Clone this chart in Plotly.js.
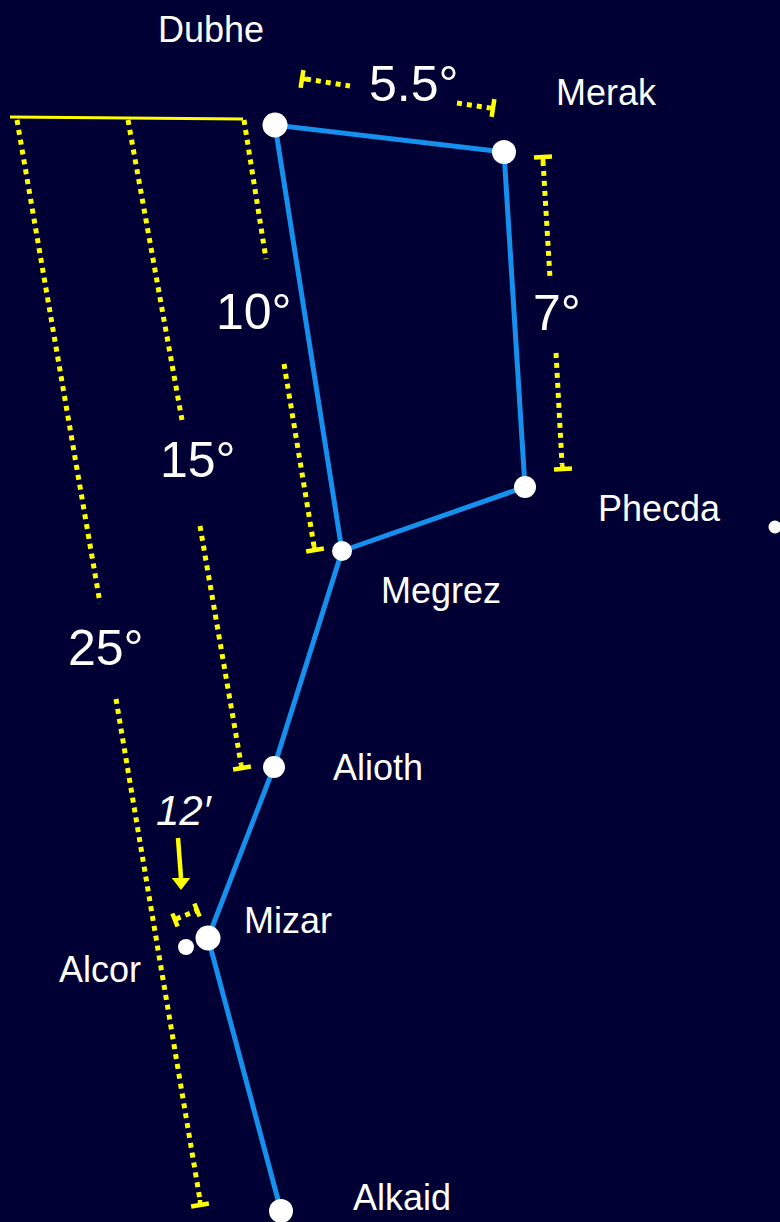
<!DOCTYPE html>
<html>
<head>
<meta charset="utf-8">
<script src="https://cdn.plot.ly/plotly-3.0.1.min.js"></script>
<style>html,body{margin:0;padding:0;background:#000035;}#chart{width:780px;height:1222px;}</style>
</head>
<body>
<div id="chart"></div>
<script>
// Stars of the Big Dipper (sky-diagram coordinates)
const starNames = ['Dubhe','Merak','Phecda','Megrez','Alioth','Mizar','Alcor','Alkaid',''];
const starX = [275, 504, 525, 342, 274, 208, 186, 281, 775];
const starY = [125, 152, 487, 551, 767, 938, 947, 1211, 527];
const starSize = [25, 24, 22, 20, 22, 25, 16, 24, 13];
// Star label anchors (left edge, vertical centre)
const labelX = [157, 555, 597, 380, 332, 243, 58, 352];
const labelY = [29, 92, 508, 590, 767, 920, 969, 1197];
// Order in which the stick figure is drawn
const figurePath = ['Alkaid','Mizar','Alioth','Megrez','Dubhe','Merak','Phecda','Megrez'];

// Angular separations
const angleText = ['5.5°','7°','10°','15°','25°','12′'];
const angleX = [368, 532, 215, 159, 67, 155];
const angleY = [84, 313, 312, 460, 648, 810];

// Dotted measuring segments
const dotX0 = [17, 116, 128, 200, 244, 284, 543, 556, 306, 457, 176];
const dotY0 = [120, 699, 120, 526, 120, 364, 161, 353, 79, 103, 919];
const dotX1 = [100, 200, 182, 241, 266, 314, 550, 562, 350, 490, 196];
const dotY1 = [603, 1200, 420, 764, 259, 546, 278, 464, 86, 108, 911];
// End bars of the measuring segments
const tickX = [200, 242, 315, 543, 563, 302, 493, 175, 197];
const tickY = [1205, 768, 550, 157, 469, 79, 108, 920, 910];
const tickLen = [18, 18, 18, 18, 18, 18, 18, 14, 14];
const tickSeg = [1, 3, 5, 6, 7, 8, 9, 10, 10];
// Common baseline of the long measurements
const baseX = [10, 243];
const baseY = [117, 119];
// Arrow pointing at Alcor/Mizar gap
const arrowX = [178, 181];
const arrowY = [838, 878];

const NAVY = '#000035', BLUE = '#1590ec', YELLOW = '#ffff00';
const FONT = 'Liberation Sans, Arial, Helvetica, sans-serif';

const idx = n => starNames.indexOf(n);
const figX = figurePath.map(n => starX[idx(n)]);
const figY = figurePath.map(n => starY[idx(n)]);

const dx = [], dy = [];
for (let i = 0; i < dotX0.length; i++) {
  dx.push(dotX0[i], dotX1[i], null);
  dy.push(dotY0[i], dotY1[i], null);
}
const tx = [], ty = [];
for (let i = 0; i < tickX.length; i++) {
  const s = tickSeg[i];
  const vx = dotX1[s] - dotX0[s], vy = dotY1[s] - dotY0[s];
  const L = Math.hypot(vx, vy);
  const px = -vy / L, py = vx / L;
  const h = tickLen[i] / 2;
  tx.push(tickX[i] - px * h, tickX[i] + px * h, null);
  ty.push(tickY[i] - py * h, tickY[i] + py * h, null);
  // stub joining the dotted segment to its bar
  const d0 = Math.hypot(tickX[i] - dotX0[s], tickY[i] - dotY0[s]);
  const d1 = Math.hypot(tickX[i] - dotX1[s], tickY[i] - dotY1[s]);
  const ex = d0 < d1 ? dotX0[s] : dotX1[s], ey = d0 < d1 ? dotY0[s] : dotY1[s];
  tx.push(ex, tickX[i], null);
  ty.push(ey, tickY[i], null);
}

const traces = [
  {x: baseX, y: baseY, mode: 'lines', line: {color: YELLOW, width: 3}, hoverinfo: 'skip'},
  {x: dx, y: dy, mode: 'lines', line: {color: YELLOW, width: 5, dash: '5px,5px'}, hoverinfo: 'skip'},
  {x: tx, y: ty, mode: 'lines', line: {color: YELLOW, width: 4.5}, hoverinfo: 'skip'},
  {x: arrowX, y: arrowY, mode: 'lines', line: {color: YELLOW, width: 4.5}, hoverinfo: 'skip'},
  {x: [arrowX[1]], y: [arrowY[1] + 4], mode: 'markers', marker: {symbol: 'triangle-down', size: 16, color: YELLOW, opacity: 1}, hoverinfo: 'skip'},
  {x: figX, y: figY, mode: 'lines', line: {color: BLUE, width: 5}, hoverinfo: 'skip'},
  {x: starX, y: starY, mode: 'markers', marker: {color: '#ffffff', opacity: 1, size: starSize, line: {width: 0}}, text: starNames, hoverinfo: 'text'}
];

const annotations = [];
for (let i = 0; i < labelX.length; i++) {
  annotations.push({x: labelX[i], y: labelY[i], xref: 'x', yref: 'y', text: starNames[i], showarrow: false,
    xanchor: 'left', yanchor: 'middle', borderpad: 0, font: {family: FONT, size: 36, color: '#ffffff'}});
}
for (let i = 0; i < angleText.length; i++) {
  const italic = angleText[i].indexOf('′') >= 0;
  annotations.push({x: angleX[i], y: angleY[i], xref: 'x', yref: 'y', text: angleText[i], showarrow: false,
    xanchor: 'left', yanchor: 'middle', borderpad: 0,
    font: {family: FONT, size: italic ? 42 : 50, color: '#ffffff', style: italic ? 'italic' : 'normal'}});
}

const layout = {
  width: 780, height: 1222,
  margin: {l: 0, r: 0, t: 0, b: 0, pad: 0},
  paper_bgcolor: NAVY, plot_bgcolor: NAVY,
  showlegend: false,
  xaxis: {range: [0, 780], visible: false, fixedrange: true},
  yaxis: {range: [1222, 0], visible: false, fixedrange: true},
  annotations: annotations
};
Plotly.newPlot('chart', traces, layout, {displayModeBar: false, staticPlot: true});
</script>
</body>
</html>
